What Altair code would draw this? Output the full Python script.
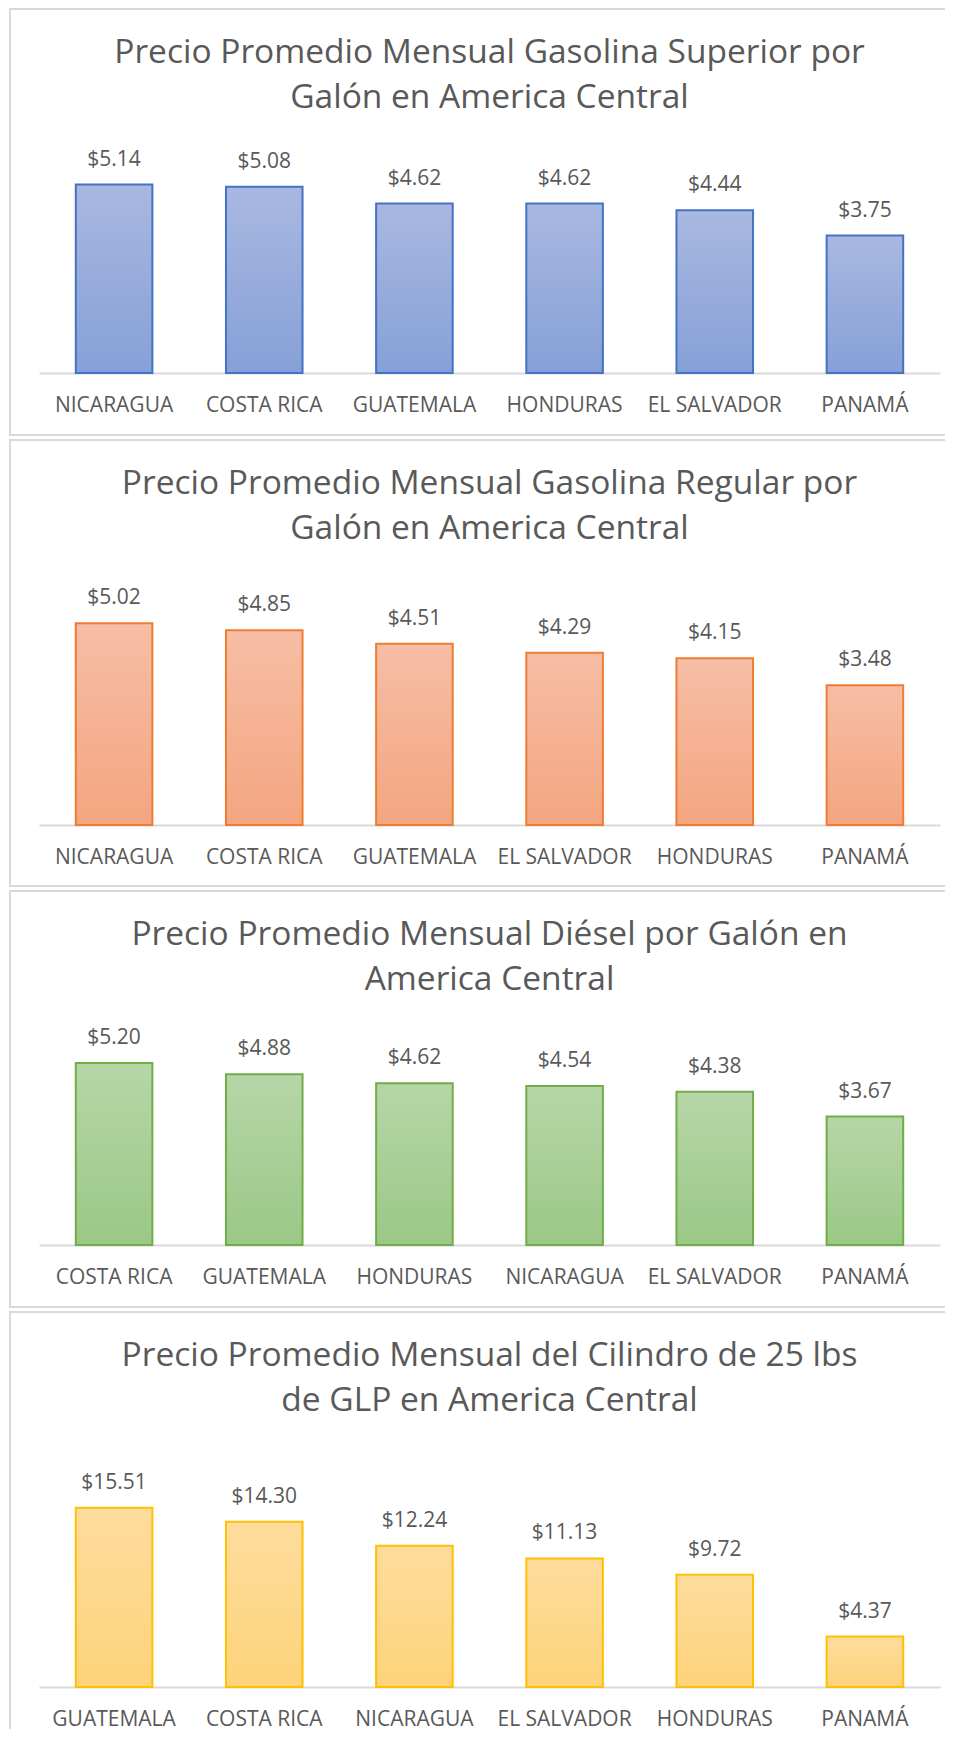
import altair as alt
import pandas as pd

# ---------------- data ----------------
sup_title = "Precio Promedio Mensual Gasolina Superior por\nGalón en America Central"
sup_countries = ["NICARAGUA", "COSTA RICA", "GUATEMALA", "HONDURAS", "EL SALVADOR", "PANAMÁ"]
sup_values = [5.14, 5.08, 4.62, 4.62, 4.44, 3.75]

reg_title = "Precio Promedio Mensual Gasolina Regular por\nGalón en America Central"
reg_countries = ["NICARAGUA", "COSTA RICA", "GUATEMALA", "EL SALVADOR", "HONDURAS", "PANAMÁ"]
reg_values = [5.02, 4.85, 4.51, 4.29, 4.15, 3.48]

die_title = "Precio Promedio Mensual Diésel por Galón en\nAmerica Central"
die_countries = ["COSTA RICA", "GUATEMALA", "HONDURAS", "NICARAGUA", "EL SALVADOR", "PANAMÁ"]
die_values = [5.20, 4.88, 4.62, 4.54, 4.38, 3.67]

glp_title = "Precio Promedio Mensual del Cilindro de 25 lbs\nde GLP en America Central"
glp_countries = ["GUATEMALA", "COSTA RICA", "NICARAGUA", "EL SALVADOR", "HONDURAS", "PANAMÁ"]
glp_values = [15.51, 14.30, 12.24, 11.13, 9.72, 4.37]

# ---------------- style ----------------
FONT = "Open Sans"
TEXT_COLOR = "#595959"
BORDER = "#d9d9d9"
W = 901


def panel(title, countries, values, ymax, height, stroke, top_c, bot_c,
          bottom_extra=62, draw_bottom=True):
    df = pd.DataFrame({"country": countries, "value": values})
    one = pd.DataFrame({"title": [title]})

    x = alt.X("country:N", sort=countries, title=None,
              scale=alt.Scale(paddingInner=0.49, paddingOuter=0.245),
              axis=alt.Axis(labelAngle=0, ticks=False, tickSize=0, labelPadding=21,
                            labelFont=FONT, labelFontSize=21, labelColor=TEXT_COLOR,
                            domainColor=BORDER, domainWidth=2, grid=False))
    y = alt.Y("value:Q", title=None, axis=None,
              scale=alt.Scale(domain=[0, ymax], nice=False, zero=True))

    grad = alt.LinearGradient(
        gradient="linear",
        stops=[alt.GradientStop(offset=0, color=top_c),
               alt.GradientStop(offset=1, color=bot_c)],
        x1=0, x2=0, y1=0, y2=1)

    bars = alt.Chart(df).mark_bar(fill=grad, stroke=stroke, strokeWidth=2).encode(x=x, y=y)
    labels = alt.Chart(df).mark_text(
        dy=-25, baseline="middle", align="center", font=FONT, fontSize=21,
        color=TEXT_COLOR).encode(x=x, y=y, text=alt.Text("value:Q", format="$.2f"))

    ttl = alt.Chart(one).mark_text(
        align="center", baseline="middle", font=FONT, fontSize=33.5, color=TEXT_COLOR,
        lineBreak="\n", lineHeight=45).encode(
        x=alt.value(W / 2), y=alt.value(-100), text="title:N")

    bottom_y = height + bottom_extra
    left = alt.Chart(one).mark_rule(color=BORDER, strokeWidth=2).encode(
        x=alt.value(-29), y=alt.value(-144), y2=alt.value(bottom_y))
    top = alt.Chart(one).mark_rule(color=BORDER, strokeWidth=2).encode(
        x=alt.value(-30), x2=alt.value(906), y=alt.value(-144))
    layers = [left, top]
    if draw_bottom:
        bot = alt.Chart(one).mark_rule(color=BORDER, strokeWidth=2).encode(
            x=alt.value(-30), x2=alt.value(906), y=alt.value(bottom_y))
        layers.append(bot)
    layers += [ttl, bars, labels]
    return alt.layer(*layers).properties(width=W, height=height)


p1 = panel(sup_title, sup_countries, sup_values, 6, 220, "#4472c4", "#a9b8e1", "#86a0d7")
p2 = panel(reg_title, reg_countries, reg_values, 6, 241, "#ed7d31", "#f6bea5", "#f4a580", bottom_extra=61)
p3 = panel(die_title, die_countries, die_values, 6, 210, "#70ad47", "#b6d6a8", "#9bc886")
p4 = panel(glp_title, glp_countries, glp_values, 20, 231, "#ffc000", "#fedc9d", "#fdd37a",
           bottom_extra=42, draw_bottom=False)

chart = alt.vconcat(p1, p2, p3, p4, spacing=3).resolve_scale(
    x="independent", y="independent").properties(padding=0).configure(
    font=FONT).configure_view(strokeWidth=0, stroke="transparent")

chart.save("out.html", embed_options={"renderer": "svg", "actions": False})
